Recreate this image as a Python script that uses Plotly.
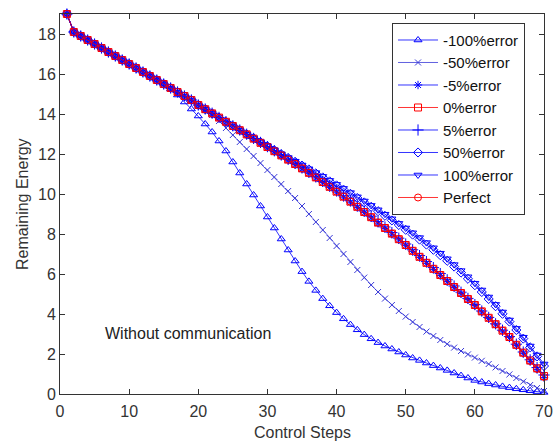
import plotly.graph_objects as go

steps = list(range(1, 71))

err_m100 = [19, 18.1, 17.9, 17.7, 17.5, 17.3, 17.1, 16.9, 16.7, 16.5,
            16.3, 16.1, 15.9, 15.7, 15.5, 15.25, 14.95, 14.6, 14.25, 13.9,
            13.5, 13.1, 12.65, 12.15, 11.6, 11.05, 10.5, 9.95, 9.4, 8.85,
            8.3, 7.75, 7.2, 6.65, 6.12, 5.63, 5.18, 4.77, 4.41, 4.07,
            3.76, 3.47, 3.21, 2.97, 2.76, 2.57, 2.4, 2.25, 2.1, 1.95,
            1.8, 1.68, 1.55, 1.42, 1.3, 1.18, 1.05, 0.92, 0.8, 0.68,
            0.6, 0.52, 0.45, 0.38, 0.32, 0.26, 0.21, 0.16, 0.12, 0.08]

err_m50 = [19, 18.1, 17.9, 17.7, 17.5, 17.3, 17.1, 16.9, 16.7, 16.5,
           16.3, 16.1, 15.9, 15.7, 15.5, 15.3, 15.1, 14.9, 14.7, 14.45,
           14.2, 13.95, 13.65, 13.3, 12.95, 12.6, 12.25, 11.9, 11.55, 11.2,
           10.85, 10.5, 10.15, 9.8, 9.4, 9.0, 8.6, 8.2, 7.8, 7.4,
           7.0, 6.6, 6.2, 5.82, 5.45, 5.1, 4.77, 4.45, 4.15, 3.87,
           3.6, 3.35, 3.12, 2.9, 2.7, 2.5, 2.32, 2.15, 1.98, 1.82,
           1.66, 1.5, 1.33, 1.15, 0.98, 0.8, 0.62, 0.45, 0.3, 0.15]

err_m5 = [19, 18.1, 17.9, 17.7, 17.5, 17.3, 17.1, 16.9, 16.7, 16.5,
          16.3, 16.1, 15.9, 15.7, 15.5, 15.3, 15.1, 14.9, 14.7, 14.45,
          14.23, 14.02, 13.81, 13.6, 13.39, 13.18, 12.97, 12.76, 12.54, 12.33,
          12.12, 11.91, 11.69, 11.47, 11.25, 11.03, 10.8, 10.57, 10.33, 10.09,
          9.84, 9.59, 9.33, 9.07, 8.81, 8.54, 8.27, 7.99, 7.71, 7.42,
          7.13, 6.83, 6.53, 6.23, 5.92, 5.62, 5.32, 5.02, 4.72, 4.42,
          4.1, 3.78, 3.46, 3.14, 2.82, 2.43, 2.03, 1.63, 1.23, 0.82]

err_0 = [19, 18.1, 17.9, 17.7, 17.5, 17.3, 17.1, 16.9, 16.7, 16.5,
         16.3, 16.1, 15.9, 15.7, 15.5, 15.3, 15.1, 14.9, 14.7, 14.45,
         14.24, 14.03, 13.82, 13.61, 13.4, 13.19, 12.98, 12.77, 12.56, 12.35,
         12.14, 11.93, 11.72, 11.5, 11.28, 11.06, 10.83, 10.6, 10.36, 10.12,
         9.87, 9.62, 9.36, 9.1, 8.84, 8.57, 8.3, 8.02, 7.74, 7.45,
         7.16, 6.86, 6.56, 6.26, 5.95, 5.65, 5.35, 5.05, 4.75, 4.45,
         4.13, 3.81, 3.49, 3.17, 2.85, 2.46, 2.07, 1.68, 1.29, 0.9]

err_p5 = [19, 18.1, 17.9, 17.7, 17.5, 17.3, 17.1, 16.9, 16.7, 16.5,
          16.3, 16.1, 15.9, 15.7, 15.5, 15.3, 15.1, 14.9, 14.7, 14.45,
          14.25, 14.04, 13.83, 13.62, 13.41, 13.2, 12.99, 12.78, 12.58, 12.37,
          12.16, 11.95, 11.74, 11.53, 11.31, 11.09, 10.86, 10.63, 10.4, 10.16,
          9.91, 9.66, 9.41, 9.15, 8.89, 8.62, 8.35, 8.07, 7.79, 7.5,
          7.21, 6.92, 6.62, 6.32, 6.02, 5.71, 5.4, 5.09, 4.78, 4.47,
          4.15, 3.83, 3.51, 3.19, 2.87, 2.49, 2.1, 1.71, 1.32, 0.95]

err_p50 = [19, 18.1, 17.9, 17.7, 17.5, 17.3, 17.1, 16.9, 16.7, 16.5,
           16.3, 16.1, 15.9, 15.7, 15.5, 15.3, 15.1, 14.9, 14.7, 14.45,
           14.24, 14.03, 13.82, 13.61, 13.4, 13.19, 12.98, 12.79, 12.59, 12.39,
           12.19, 11.99, 11.8, 11.61, 11.42, 11.23, 11.03, 10.83, 10.63, 10.43,
           10.22, 10.01, 9.8, 9.58, 9.36, 9.14, 8.91, 8.68, 8.45, 8.21,
           7.97, 7.72, 7.47, 7.21, 6.94, 6.66, 6.37, 6.07, 5.76, 5.44,
           5.1, 4.75, 4.39, 4.01, 3.62, 3.2, 2.77, 2.33, 1.88, 1.4]

err_p100 = [19, 18.1, 17.9, 17.7, 17.5, 17.3, 17.1, 16.9, 16.7, 16.5,
            16.3, 16.1, 15.9, 15.7, 15.5, 15.3, 15.1, 14.9, 14.7, 14.45,
            14.24, 14.03, 13.82, 13.61, 13.4, 13.19, 12.99, 12.8, 12.6, 12.4,
            12.2, 12.0, 11.82, 11.64, 11.45, 11.26, 11.07, 10.88, 10.68, 10.48,
            10.28, 10.07, 9.86, 9.65, 9.43, 9.21, 8.99, 8.76, 8.53, 8.3,
            8.06, 7.82, 7.57, 7.31, 7.04, 6.76, 6.47, 6.17, 5.86, 5.54,
            5.2, 4.85, 4.48, 4.1, 3.7, 3.28, 2.84, 2.4, 1.95, 1.5]

perfect = [19, 18.1, 17.9, 17.7, 17.5, 17.3, 17.1, 16.9, 16.7, 16.5,
           16.3, 16.1, 15.9, 15.7, 15.5, 15.3, 15.1, 14.9, 14.7, 14.45,
           14.24, 14.03, 13.82, 13.61, 13.4, 13.19, 12.98, 12.77, 12.56, 12.35,
           12.14, 11.93, 11.72, 11.5, 11.28, 11.06, 10.83, 10.6, 10.36, 10.12,
           9.87, 9.62, 9.36, 9.1, 8.84, 8.57, 8.3, 8.02, 7.74, 7.45,
           7.16, 6.86, 6.56, 6.26, 5.95, 5.65, 5.35, 5.05, 4.75, 4.45,
           4.13, 3.81, 3.49, 3.17, 2.85, 2.45, 2.05, 1.65, 1.25, 0.85]

series_names = ["-100%error", "-50%error", "-5%error", "0%error",
                "5%error", "50%error", "100%error", "Perfect"]
series_values = [err_m100, err_m50, err_m5, err_0, err_p5, err_p50, err_p100, perfect]

BLUE = "#0000ff"
RED = "#ff0000"
styles = [
    (BLUE, "triangle-up-open", 7),
    ("#3a3ad8", "x-thin-open", 6),
    (BLUE, "asterisk-open", 7),
    (RED, "square-open", 7),
    (BLUE, "cross-thin-open", 8),
    (BLUE, "diamond-open", 7),
    (BLUE, "triangle-down-open", 7),
    (RED, "circle-open", 7),
]

FONT = "Liberation Sans, Arial, sans-serif"
TXT = "#333333"

fig = go.Figure()
for name, vals, (col, sym, sz) in zip(series_names, series_values, styles):
    fig.add_trace(go.Scatter(
        x=steps, y=vals, name=name, mode="lines+markers",
        line=dict(color=col, width=0.8),
        marker=dict(symbol=sym, size=sz, color=col, line=dict(color=col, width=1)),
        cliponaxis=False,
    ))

axis_common = dict(
    showline=True, linecolor="#333333", linewidth=1, mirror="ticks",
    ticks="inside", ticklen=5, tickcolor="#333333",
    showgrid=False, zeroline=False, automargin=False,
    tickfont=dict(family=FONT, size=16, color=TXT),
)

fig.update_layout(
    width=554, height=441,
    margin=dict(l=60, r=10, t=14, b=47),
    paper_bgcolor="white", plot_bgcolor="white",
    font=dict(family=FONT, size=16, color=TXT),
    xaxis=dict(range=[0, 70], tickvals=[0, 10, 20, 30, 40, 50, 60, 70],
               ticklabelstandoff=3,
               **axis_common),
    yaxis=dict(range=[0, 19], tickvals=[0, 2, 4, 6, 8, 10, 12, 14, 16, 18],
               **axis_common),
    legend=dict(x=0.686, y=0.977, xanchor="left", yanchor="top",
                bgcolor="white", bordercolor="#333333", borderwidth=1,
                font=dict(family=FONT, size=15, color="#111111"),
                itemwidth=40, tracegroupgap=0),
    showlegend=True,
)

fig.add_annotation(x=0.5, y=-0.1, xref="paper", yref="paper", text="Control Steps",
                   showarrow=False, xanchor="center", yanchor="middle",
                   font=dict(family=FONT, size=16, color=TXT))
fig.add_annotation(x=-38 / 484, y=0.5, xref="paper", yref="paper", text="Remaining Energy",
                   showarrow=False, xanchor="center", yanchor="middle", textangle=-90,
                   font=dict(family=FONT, size=16, color=TXT))
fig.add_annotation(x=6.2, y=3.05, xref="x", yref="y", text="Without communication",
                   showarrow=False, xanchor="left", yanchor="middle",
                   font=dict(family=FONT, size=16, color="#222222"))

fig.write_html("out.html")
